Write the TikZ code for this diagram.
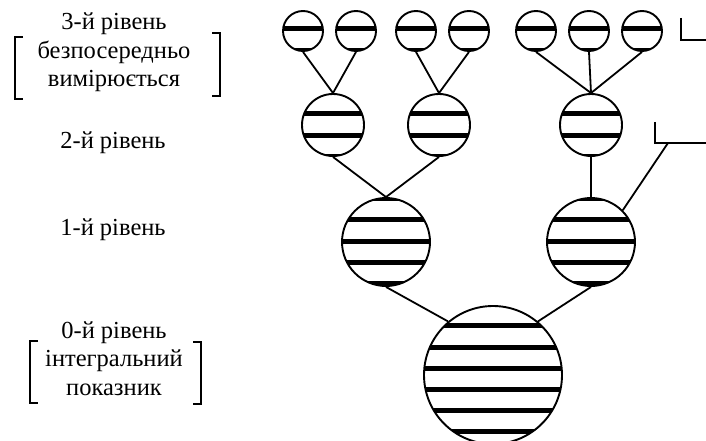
\documentclass[tikz,border=0pt]{standalone}
\usepackage{fontspec}
\setmainfont{Liberation Serif}
\usetikzlibrary{calc}
\tikzset{
  ball/.style={circle, draw, line width=1.9pt, inner sep=0pt},
  link/.style={line width=1.8pt},
  lbl/.style={align=center, font=\fontsize{24.5}{28.5}\selectfont, inner sep=0pt},
  brk/.style={line width=2pt}
}
% striped ball: name, centre, radius
\def\ball(#1)(#2,#3)(#4){
  \begin{scope}
    \clip (#2,#3) circle (#4);
    \foreach \k in {0,...,19}
      \fill ({#2-#4}, {26.5+21.2*\k}) rectangle ++({2*#4}, 5);
  \end{scope}
  \node[ball, minimum size=#4*2pt] (#1) at (#2,#3) {};
}

\begin{document}
\begin{tikzpicture}[x=1pt, y=-1pt]
  %%%%% START %%%%%
  \useasboundingbox (0,0) rectangle (706,441);

  % level 3
  \ball(a1)(303,31)(20)
  \ball(a2)(356,31)(20)
  \ball(a3)(416,31)(20)
  \ball(a4)(469,31)(20)
  \ball(a5)(536,31)(20)
  \ball(a6)(589,31)(20)
  \ball(a7)(642,31)(20)

  % level 2
  \ball(b1)(333,125)(31)
  \ball(b2)(439,125)(31)
  \ball(b3)(591,125)(31)

  % level 1
  \ball(c1)(386,242)(44)
  \ball(c2)(591,242)(44)

  % level 0
  \ball(d)(493,375)(69)

  \draw[link] (a1.south) -- (b1.north);
  \draw[link] (a2.south) -- (b1.north);
  \draw[link] (a3.south) -- (b2.north);
  \draw[link] (a4.south) -- (b2.north);
  \draw[link] (a5.south) -- (b3.north);
  \draw[link] (a6.south) -- (b3.north);
  \draw[link] (a7.south) -- (b3.north);

  \draw[link] (b1.south) -- (c1.north);
  \draw[link] (b2.south) -- (c1.north);
  \draw[link] (b3.south) -- (c2.north);

  \draw[link] (c1.south) -- (d.130);
  \draw[link] (c2.south) -- (d.50);

  % cut-off callouts on the right
  \coordinate (tagb) at (668,143);
  \draw[link] (c2.45) -- (tagb);
  \draw[link] (655,122) |- (706,143);
  \draw[link] (681,18) |- (706,40);

  % level labels
  \node[lbl, anchor=base] (t3) at (114,87) {3-й рівень\\безпосередньо\\вимірюється};
  \node[lbl, anchor=base] (t2) at (113,148) {2-й рівень};
  \node[lbl, anchor=base] (t1) at (113,235) {1-й рівень};
  \node[lbl, anchor=base] (t0) at (114,395) {0-й рівень\\інтегральний\\показник};

  \draw[brk] (23,37) -- (15,37) -- (15,99) -- (23,99);
  \draw[brk] (212,33) -- (220,33) -- (220,96) -- (212,96);
  \draw[brk] (38,341) -- (30,341) -- (30,403) -- (38,403);
  \draw[brk] (193,342) -- (201,342) -- (201,404) -- (193,404);

  %%%%% END %%%%%
\end{tikzpicture}
\end{document}
